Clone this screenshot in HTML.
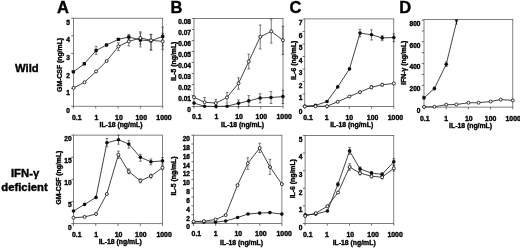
<!DOCTYPE html>
<html><head><meta charset="utf-8"><title>Figure</title>
<style>
html,body{margin:0;padding:0;background:#fff;}
body{width:520px;height:248px;overflow:hidden;font-family:"Liberation Sans",sans-serif;}
svg{display:block;opacity:0.999;will-change:transform}
text{fill:#000}
</style></head><body>
<svg width="520" height="248" viewBox="0 0 520 248">
<defs><filter id="bl" x="0" y="0" width="520" height="248" filterUnits="userSpaceOnUse"><feGaussianBlur stdDeviation="0.3"/></filter></defs>
<rect width="520" height="248" fill="#fff"/>
<g filter="url(#bl)">
<rect x="73.40" y="18.20" width="89.30" height="88.00" fill="none" stroke="#4a4a4a" stroke-width="0.7"/>
<line x1="73.40" y1="106.20" x2="73.40" y2="108.40" stroke="#4a4a4a" stroke-width="0.8"/>
<text x="76.70" y="119.50" font-size="6.9" text-anchor="middle" font-family="Liberation Sans, sans-serif" font-weight="bold" stroke="#000" stroke-width="0.36" >0.1</text>
<line x1="95.72" y1="106.20" x2="95.72" y2="108.40" stroke="#4a4a4a" stroke-width="0.8"/>
<text x="96.32" y="119.50" font-size="6.9" text-anchor="middle" font-family="Liberation Sans, sans-serif" font-weight="bold" stroke="#000" stroke-width="0.36" >1</text>
<line x1="118.05" y1="106.20" x2="118.05" y2="108.40" stroke="#4a4a4a" stroke-width="0.8"/>
<text x="118.95" y="119.50" font-size="6.9" text-anchor="middle" font-family="Liberation Sans, sans-serif" font-weight="bold" stroke="#000" stroke-width="0.36" >10</text>
<line x1="140.38" y1="106.20" x2="140.38" y2="108.40" stroke="#4a4a4a" stroke-width="0.8"/>
<text x="141.28" y="119.50" font-size="6.9" text-anchor="middle" font-family="Liberation Sans, sans-serif" font-weight="bold" stroke="#000" stroke-width="0.36" >100</text>
<line x1="162.70" y1="106.20" x2="162.70" y2="108.40" stroke="#4a4a4a" stroke-width="0.8"/>
<text x="164.00" y="119.50" font-size="6.9" text-anchor="middle" font-family="Liberation Sans, sans-serif" font-weight="bold" stroke="#000" stroke-width="0.36" >1000</text>
<line x1="71.20" y1="106.20" x2="73.40" y2="106.20" stroke="#4a4a4a" stroke-width="0.8"/>
<text x="70.00" y="112.83" font-size="6.6" text-anchor="end" font-family="Liberation Sans, sans-serif" font-weight="bold" stroke="#000" stroke-width="0.36" >0</text>
<line x1="71.20" y1="88.60" x2="73.40" y2="88.60" stroke="#4a4a4a" stroke-width="0.8"/>
<text x="70.00" y="95.23" font-size="6.6" text-anchor="end" font-family="Liberation Sans, sans-serif" font-weight="bold" stroke="#000" stroke-width="0.36" >1</text>
<line x1="71.20" y1="71.00" x2="73.40" y2="71.00" stroke="#4a4a4a" stroke-width="0.8"/>
<text x="70.00" y="77.63" font-size="6.6" text-anchor="end" font-family="Liberation Sans, sans-serif" font-weight="bold" stroke="#000" stroke-width="0.36" >2</text>
<line x1="71.20" y1="53.40" x2="73.40" y2="53.40" stroke="#4a4a4a" stroke-width="0.8"/>
<text x="70.00" y="60.03" font-size="6.6" text-anchor="end" font-family="Liberation Sans, sans-serif" font-weight="bold" stroke="#000" stroke-width="0.36" >3</text>
<line x1="71.20" y1="35.80" x2="73.40" y2="35.80" stroke="#4a4a4a" stroke-width="0.8"/>
<text x="70.00" y="42.43" font-size="6.6" text-anchor="end" font-family="Liberation Sans, sans-serif" font-weight="bold" stroke="#000" stroke-width="0.36" >4</text>
<line x1="71.20" y1="18.20" x2="73.40" y2="18.20" stroke="#4a4a4a" stroke-width="0.8"/>
<text x="70.00" y="24.83" font-size="6.6" text-anchor="end" font-family="Liberation Sans, sans-serif" font-weight="bold" stroke="#000" stroke-width="0.36" >5</text>
<text x="121.00" y="127.20" font-size="6.85" text-anchor="middle" font-family="Liberation Sans, sans-serif" font-weight="bold" stroke="#000" stroke-width="0.36" >IL-18 (ng/mL)</text>
<text transform="translate(62.20,64.90) rotate(-90)" font-size="6.85" text-anchor="middle" font-family="Liberation Sans, sans-serif" font-weight="bold" stroke="#000" stroke-width="0.36">GM-CSF (ng/mL)</text>
<path d="M73.40,71.90 L84.30,63.75 L96.10,50.50 L106.50,45.00 L118.40,39.30 L128.80,37.00 L140.40,40.00 L151.00,40.80 L162.70,36.40" fill="none" stroke="#222" stroke-width="0.85"/>
<path d="M73.60,87.90 L84.50,82.25 L96.10,71.50 L106.70,61.00 L118.40,46.40 L128.80,41.40 L140.40,38.00 L151.00,40.30 L162.70,41.40" fill="none" stroke="#222" stroke-width="0.85"/>
<line x1="96.10" y1="46.25" x2="96.10" y2="54.40" stroke="#333" stroke-width="0.65"/>
<line x1="94.80" y1="46.25" x2="97.40" y2="46.25" stroke="#333" stroke-width="0.65"/>
<line x1="94.80" y1="54.40" x2="97.40" y2="54.40" stroke="#333" stroke-width="0.65"/>
<line x1="128.80" y1="34.40" x2="128.80" y2="40.00" stroke="#333" stroke-width="0.65"/>
<line x1="127.50" y1="34.40" x2="130.10" y2="34.40" stroke="#333" stroke-width="0.65"/>
<line x1="127.50" y1="40.00" x2="130.10" y2="40.00" stroke="#333" stroke-width="0.65"/>
<line x1="140.40" y1="33.00" x2="140.40" y2="46.90" stroke="#333" stroke-width="0.65"/>
<line x1="139.10" y1="33.00" x2="141.70" y2="33.00" stroke="#333" stroke-width="0.65"/>
<line x1="139.10" y1="46.90" x2="141.70" y2="46.90" stroke="#333" stroke-width="0.65"/>
<line x1="151.00" y1="34.40" x2="151.00" y2="50.00" stroke="#333" stroke-width="0.65"/>
<line x1="149.70" y1="34.40" x2="152.30" y2="34.40" stroke="#333" stroke-width="0.65"/>
<line x1="149.70" y1="50.00" x2="152.30" y2="50.00" stroke="#333" stroke-width="0.65"/>
<line x1="162.70" y1="27.10" x2="162.70" y2="45.70" stroke="#333" stroke-width="0.65"/>
<line x1="161.40" y1="27.10" x2="164.00" y2="27.10" stroke="#333" stroke-width="0.65"/>
<line x1="161.40" y1="45.70" x2="164.00" y2="45.70" stroke="#333" stroke-width="0.65"/>
<line x1="118.40" y1="42.80" x2="118.40" y2="50.60" stroke="#333" stroke-width="0.65"/>
<line x1="117.10" y1="42.80" x2="119.70" y2="42.80" stroke="#333" stroke-width="0.65"/>
<line x1="117.10" y1="50.60" x2="119.70" y2="50.60" stroke="#333" stroke-width="0.65"/>
<line x1="128.80" y1="37.00" x2="128.80" y2="46.00" stroke="#333" stroke-width="0.65"/>
<line x1="127.50" y1="37.00" x2="130.10" y2="37.00" stroke="#333" stroke-width="0.65"/>
<line x1="127.50" y1="46.00" x2="130.10" y2="46.00" stroke="#333" stroke-width="0.65"/>
<line x1="140.40" y1="31.80" x2="140.40" y2="44.20" stroke="#333" stroke-width="0.65"/>
<line x1="139.10" y1="31.80" x2="141.70" y2="31.80" stroke="#333" stroke-width="0.65"/>
<line x1="139.10" y1="44.20" x2="141.70" y2="44.20" stroke="#333" stroke-width="0.65"/>
<line x1="151.00" y1="34.40" x2="151.00" y2="50.00" stroke="#333" stroke-width="0.65"/>
<line x1="149.70" y1="34.40" x2="152.30" y2="34.40" stroke="#333" stroke-width="0.65"/>
<line x1="149.70" y1="50.00" x2="152.30" y2="50.00" stroke="#333" stroke-width="0.65"/>
<line x1="162.70" y1="33.40" x2="162.70" y2="49.40" stroke="#333" stroke-width="0.65"/>
<line x1="161.40" y1="33.40" x2="164.00" y2="33.40" stroke="#333" stroke-width="0.65"/>
<line x1="161.40" y1="49.40" x2="164.00" y2="49.40" stroke="#333" stroke-width="0.65"/>
<rect x="71.75" y="70.25" width="3.3" height="3.3" rx="0.7" fill="#111"/>
<rect x="82.65" y="62.10" width="3.3" height="3.3" rx="0.7" fill="#111"/>
<rect x="94.45" y="48.85" width="3.3" height="3.3" rx="0.7" fill="#111"/>
<rect x="104.85" y="43.35" width="3.3" height="3.3" rx="0.7" fill="#111"/>
<rect x="116.75" y="37.65" width="3.3" height="3.3" rx="0.7" fill="#111"/>
<rect x="127.15" y="35.35" width="3.3" height="3.3" rx="0.7" fill="#111"/>
<rect x="138.75" y="38.35" width="3.3" height="3.3" rx="0.7" fill="#111"/>
<rect x="149.35" y="39.15" width="3.3" height="3.3" rx="0.7" fill="#111"/>
<rect x="161.05" y="34.75" width="3.3" height="3.3" rx="0.7" fill="#111"/>
<circle cx="73.60" cy="87.90" r="1.5" fill="#fff" stroke="#1a1a1a" stroke-width="0.9"/>
<circle cx="84.50" cy="82.25" r="1.5" fill="#fff" stroke="#1a1a1a" stroke-width="0.9"/>
<circle cx="96.10" cy="71.50" r="1.5" fill="#fff" stroke="#1a1a1a" stroke-width="0.9"/>
<circle cx="106.70" cy="61.00" r="1.5" fill="#fff" stroke="#1a1a1a" stroke-width="0.9"/>
<circle cx="118.40" cy="46.40" r="1.5" fill="#fff" stroke="#1a1a1a" stroke-width="0.9"/>
<circle cx="128.80" cy="41.40" r="1.5" fill="#fff" stroke="#1a1a1a" stroke-width="0.9"/>
<circle cx="140.40" cy="38.00" r="1.5" fill="#fff" stroke="#1a1a1a" stroke-width="0.9"/>
<circle cx="151.00" cy="40.30" r="1.5" fill="#fff" stroke="#1a1a1a" stroke-width="0.9"/>
<circle cx="162.70" cy="41.40" r="1.5" fill="#fff" stroke="#1a1a1a" stroke-width="0.9"/>
<rect x="194.00" y="18.50" width="89.00" height="88.00" fill="none" stroke="#4a4a4a" stroke-width="0.7"/>
<line x1="194.00" y1="106.50" x2="194.00" y2="108.70" stroke="#4a4a4a" stroke-width="0.8"/>
<text x="196.70" y="119.40" font-size="6.9" text-anchor="middle" font-family="Liberation Sans, sans-serif" font-weight="bold" stroke="#000" stroke-width="0.36" >0.1</text>
<line x1="216.25" y1="106.50" x2="216.25" y2="108.70" stroke="#4a4a4a" stroke-width="0.8"/>
<text x="216.45" y="119.40" font-size="6.9" text-anchor="middle" font-family="Liberation Sans, sans-serif" font-weight="bold" stroke="#000" stroke-width="0.36" >1</text>
<line x1="238.50" y1="106.50" x2="238.50" y2="108.70" stroke="#4a4a4a" stroke-width="0.8"/>
<text x="239.10" y="119.40" font-size="6.9" text-anchor="middle" font-family="Liberation Sans, sans-serif" font-weight="bold" stroke="#000" stroke-width="0.36" >10</text>
<line x1="260.75" y1="106.50" x2="260.75" y2="108.70" stroke="#4a4a4a" stroke-width="0.8"/>
<text x="261.35" y="119.40" font-size="6.9" text-anchor="middle" font-family="Liberation Sans, sans-serif" font-weight="bold" stroke="#000" stroke-width="0.36" >100</text>
<line x1="283.00" y1="106.50" x2="283.00" y2="108.70" stroke="#4a4a4a" stroke-width="0.8"/>
<text x="284.20" y="119.40" font-size="6.9" text-anchor="middle" font-family="Liberation Sans, sans-serif" font-weight="bold" stroke="#000" stroke-width="0.36" >1000</text>
<line x1="191.80" y1="106.50" x2="194.00" y2="106.50" stroke="#4a4a4a" stroke-width="0.8"/>
<text x="191.00" y="111.83" font-size="6.6" text-anchor="end" font-family="Liberation Sans, sans-serif" font-weight="bold" stroke="#000" stroke-width="0.36" >0</text>
<line x1="191.80" y1="95.50" x2="194.00" y2="95.50" stroke="#4a4a4a" stroke-width="0.8"/>
<text x="191.00" y="100.83" font-size="6.6" text-anchor="end" font-family="Liberation Sans, sans-serif" font-weight="bold" stroke="#000" stroke-width="0.36" >0.01</text>
<line x1="191.80" y1="84.50" x2="194.00" y2="84.50" stroke="#4a4a4a" stroke-width="0.8"/>
<text x="191.00" y="89.83" font-size="6.6" text-anchor="end" font-family="Liberation Sans, sans-serif" font-weight="bold" stroke="#000" stroke-width="0.36" >0.02</text>
<line x1="191.80" y1="73.50" x2="194.00" y2="73.50" stroke="#4a4a4a" stroke-width="0.8"/>
<text x="191.00" y="78.83" font-size="6.6" text-anchor="end" font-family="Liberation Sans, sans-serif" font-weight="bold" stroke="#000" stroke-width="0.36" >0.03</text>
<line x1="191.80" y1="62.50" x2="194.00" y2="62.50" stroke="#4a4a4a" stroke-width="0.8"/>
<text x="191.00" y="67.83" font-size="6.6" text-anchor="end" font-family="Liberation Sans, sans-serif" font-weight="bold" stroke="#000" stroke-width="0.36" >0.04</text>
<line x1="191.80" y1="51.50" x2="194.00" y2="51.50" stroke="#4a4a4a" stroke-width="0.8"/>
<text x="191.00" y="56.83" font-size="6.6" text-anchor="end" font-family="Liberation Sans, sans-serif" font-weight="bold" stroke="#000" stroke-width="0.36" >0.05</text>
<line x1="191.80" y1="40.50" x2="194.00" y2="40.50" stroke="#4a4a4a" stroke-width="0.8"/>
<text x="191.00" y="45.83" font-size="6.6" text-anchor="end" font-family="Liberation Sans, sans-serif" font-weight="bold" stroke="#000" stroke-width="0.36" >0.06</text>
<line x1="191.80" y1="29.50" x2="194.00" y2="29.50" stroke="#4a4a4a" stroke-width="0.8"/>
<text x="191.00" y="34.83" font-size="6.6" text-anchor="end" font-family="Liberation Sans, sans-serif" font-weight="bold" stroke="#000" stroke-width="0.36" >0.07</text>
<line x1="191.80" y1="18.50" x2="194.00" y2="18.50" stroke="#4a4a4a" stroke-width="0.8"/>
<text x="191.00" y="23.83" font-size="6.6" text-anchor="end" font-family="Liberation Sans, sans-serif" font-weight="bold" stroke="#000" stroke-width="0.36" >0.08</text>
<text x="242.60" y="126.90" font-size="6.85" text-anchor="middle" font-family="Liberation Sans, sans-serif" font-weight="bold" stroke="#000" stroke-width="0.36" >IL-18 (ng/mL)</text>
<text transform="translate(176.10,61.20) rotate(-90)" font-size="6.85" text-anchor="middle" font-family="Liberation Sans, sans-serif" font-weight="bold" stroke="#000" stroke-width="0.36">IL-5 (ng/mL)</text>
<path d="M194.00,103.10 L204.60,106.30 L216.00,106.40 L227.10,106.20 L238.50,103.30 L248.75,100.90 L260.10,98.00 L271.00,97.50 L282.90,96.60" fill="none" stroke="#222" stroke-width="0.85"/>
<path d="M194.00,97.25 L204.60,102.25 L215.80,103.10 L227.00,97.40 L238.50,83.30 L248.75,61.50 L260.25,36.80 L271.25,31.40 L282.90,40.20" fill="none" stroke="#222" stroke-width="0.85"/>
<line x1="238.50" y1="100.00" x2="238.50" y2="106.90" stroke="#333" stroke-width="0.65"/>
<line x1="237.20" y1="100.00" x2="239.80" y2="100.00" stroke="#333" stroke-width="0.65"/>
<line x1="237.20" y1="106.90" x2="239.80" y2="106.90" stroke="#333" stroke-width="0.65"/>
<line x1="248.75" y1="95.60" x2="248.75" y2="106.00" stroke="#333" stroke-width="0.65"/>
<line x1="247.45" y1="95.60" x2="250.05" y2="95.60" stroke="#333" stroke-width="0.65"/>
<line x1="247.45" y1="106.00" x2="250.05" y2="106.00" stroke="#333" stroke-width="0.65"/>
<line x1="260.10" y1="93.75" x2="260.10" y2="102.90" stroke="#333" stroke-width="0.65"/>
<line x1="258.80" y1="93.75" x2="261.40" y2="93.75" stroke="#333" stroke-width="0.65"/>
<line x1="258.80" y1="102.90" x2="261.40" y2="102.90" stroke="#333" stroke-width="0.65"/>
<line x1="271.00" y1="91.50" x2="271.00" y2="103.50" stroke="#333" stroke-width="0.65"/>
<line x1="269.70" y1="91.50" x2="272.30" y2="91.50" stroke="#333" stroke-width="0.65"/>
<line x1="269.70" y1="103.50" x2="272.30" y2="103.50" stroke="#333" stroke-width="0.65"/>
<line x1="282.90" y1="90.25" x2="282.90" y2="103.50" stroke="#333" stroke-width="0.65"/>
<line x1="281.60" y1="90.25" x2="284.20" y2="90.25" stroke="#333" stroke-width="0.65"/>
<line x1="281.60" y1="103.50" x2="284.20" y2="103.50" stroke="#333" stroke-width="0.65"/>
<line x1="204.60" y1="97.50" x2="204.60" y2="102.25" stroke="#333" stroke-width="0.65"/>
<line x1="203.30" y1="97.50" x2="205.90" y2="97.50" stroke="#333" stroke-width="0.65"/>
<line x1="215.80" y1="99.40" x2="215.80" y2="103.10" stroke="#333" stroke-width="0.65"/>
<line x1="214.50" y1="99.40" x2="217.10" y2="99.40" stroke="#333" stroke-width="0.65"/>
<line x1="227.00" y1="92.50" x2="227.00" y2="103.10" stroke="#333" stroke-width="0.65"/>
<line x1="225.70" y1="92.50" x2="228.30" y2="92.50" stroke="#333" stroke-width="0.65"/>
<line x1="225.70" y1="103.10" x2="228.30" y2="103.10" stroke="#333" stroke-width="0.65"/>
<line x1="238.50" y1="77.80" x2="238.50" y2="89.20" stroke="#333" stroke-width="0.65"/>
<line x1="237.20" y1="77.80" x2="239.80" y2="77.80" stroke="#333" stroke-width="0.65"/>
<line x1="237.20" y1="89.20" x2="239.80" y2="89.20" stroke="#333" stroke-width="0.65"/>
<line x1="248.75" y1="54.20" x2="248.75" y2="68.75" stroke="#333" stroke-width="0.65"/>
<line x1="247.45" y1="54.20" x2="250.05" y2="54.20" stroke="#333" stroke-width="0.65"/>
<line x1="247.45" y1="68.75" x2="250.05" y2="68.75" stroke="#333" stroke-width="0.65"/>
<line x1="260.25" y1="25.00" x2="260.25" y2="49.00" stroke="#333" stroke-width="0.65"/>
<line x1="258.95" y1="25.00" x2="261.55" y2="25.00" stroke="#333" stroke-width="0.65"/>
<line x1="258.95" y1="49.00" x2="261.55" y2="49.00" stroke="#333" stroke-width="0.65"/>
<line x1="271.25" y1="19.00" x2="271.25" y2="43.10" stroke="#333" stroke-width="0.65"/>
<line x1="269.95" y1="19.00" x2="272.55" y2="19.00" stroke="#333" stroke-width="0.65"/>
<line x1="269.95" y1="43.10" x2="272.55" y2="43.10" stroke="#333" stroke-width="0.65"/>
<line x1="282.90" y1="26.25" x2="282.90" y2="54.40" stroke="#333" stroke-width="0.65"/>
<line x1="281.60" y1="26.25" x2="284.20" y2="26.25" stroke="#333" stroke-width="0.65"/>
<line x1="281.60" y1="54.40" x2="284.20" y2="54.40" stroke="#333" stroke-width="0.65"/>
<circle cx="194.00" cy="103.10" r="1.8" fill="#111"/>
<circle cx="204.60" cy="106.30" r="1.8" fill="#111"/>
<circle cx="216.00" cy="106.40" r="1.8" fill="#111"/>
<circle cx="227.10" cy="106.20" r="1.8" fill="#111"/>
<circle cx="238.50" cy="103.30" r="1.8" fill="#111"/>
<circle cx="248.75" cy="100.90" r="1.8" fill="#111"/>
<circle cx="260.10" cy="98.00" r="1.8" fill="#111"/>
<circle cx="271.00" cy="97.50" r="1.8" fill="#111"/>
<circle cx="282.90" cy="96.60" r="1.8" fill="#111"/>
<circle cx="194.00" cy="97.25" r="1.5" fill="#fff" stroke="#1a1a1a" stroke-width="0.9"/>
<circle cx="204.60" cy="102.25" r="1.5" fill="#fff" stroke="#1a1a1a" stroke-width="0.9"/>
<circle cx="215.80" cy="103.10" r="1.5" fill="#fff" stroke="#1a1a1a" stroke-width="0.9"/>
<circle cx="227.00" cy="97.40" r="1.5" fill="#fff" stroke="#1a1a1a" stroke-width="0.9"/>
<circle cx="238.50" cy="83.30" r="1.5" fill="#fff" stroke="#1a1a1a" stroke-width="0.9"/>
<circle cx="248.75" cy="61.50" r="1.5" fill="#fff" stroke="#1a1a1a" stroke-width="0.9"/>
<circle cx="260.25" cy="36.80" r="1.5" fill="#fff" stroke="#1a1a1a" stroke-width="0.9"/>
<circle cx="271.25" cy="31.40" r="1.5" fill="#fff" stroke="#1a1a1a" stroke-width="0.9"/>
<circle cx="282.90" cy="40.20" r="1.5" fill="#fff" stroke="#1a1a1a" stroke-width="0.9"/>
<rect x="304.80" y="18.90" width="89.00" height="87.60" fill="none" stroke="#4a4a4a" stroke-width="0.7"/>
<line x1="304.80" y1="106.50" x2="304.80" y2="108.70" stroke="#4a4a4a" stroke-width="0.8"/>
<text x="308.00" y="119.80" font-size="6.9" text-anchor="middle" font-family="Liberation Sans, sans-serif" font-weight="bold" stroke="#000" stroke-width="0.36" >0.1</text>
<line x1="327.05" y1="106.50" x2="327.05" y2="108.70" stroke="#4a4a4a" stroke-width="0.8"/>
<text x="326.55" y="119.80" font-size="6.9" text-anchor="middle" font-family="Liberation Sans, sans-serif" font-weight="bold" stroke="#000" stroke-width="0.36" >1</text>
<line x1="349.30" y1="106.50" x2="349.30" y2="108.70" stroke="#4a4a4a" stroke-width="0.8"/>
<text x="349.30" y="119.80" font-size="6.9" text-anchor="middle" font-family="Liberation Sans, sans-serif" font-weight="bold" stroke="#000" stroke-width="0.36" >10</text>
<line x1="371.55" y1="106.50" x2="371.55" y2="108.70" stroke="#4a4a4a" stroke-width="0.8"/>
<text x="372.55" y="119.80" font-size="6.9" text-anchor="middle" font-family="Liberation Sans, sans-serif" font-weight="bold" stroke="#000" stroke-width="0.36" >100</text>
<line x1="393.80" y1="106.50" x2="393.80" y2="108.70" stroke="#4a4a4a" stroke-width="0.8"/>
<text x="395.40" y="119.80" font-size="6.9" text-anchor="middle" font-family="Liberation Sans, sans-serif" font-weight="bold" stroke="#000" stroke-width="0.36" >1000</text>
<line x1="302.60" y1="106.50" x2="304.80" y2="106.50" stroke="#4a4a4a" stroke-width="0.8"/>
<text x="302.30" y="113.73" font-size="6.6" text-anchor="end" font-family="Liberation Sans, sans-serif" font-weight="bold" stroke="#000" stroke-width="0.36" >0</text>
<line x1="302.60" y1="94.00" x2="304.80" y2="94.00" stroke="#4a4a4a" stroke-width="0.8"/>
<text x="302.30" y="100.23" font-size="6.6" text-anchor="end" font-family="Liberation Sans, sans-serif" font-weight="bold" stroke="#000" stroke-width="0.36" >1</text>
<line x1="302.60" y1="81.50" x2="304.80" y2="81.50" stroke="#4a4a4a" stroke-width="0.8"/>
<text x="302.30" y="87.73" font-size="6.6" text-anchor="end" font-family="Liberation Sans, sans-serif" font-weight="bold" stroke="#000" stroke-width="0.36" >2</text>
<line x1="302.60" y1="69.00" x2="304.80" y2="69.00" stroke="#4a4a4a" stroke-width="0.8"/>
<text x="302.30" y="75.23" font-size="6.6" text-anchor="end" font-family="Liberation Sans, sans-serif" font-weight="bold" stroke="#000" stroke-width="0.36" >3</text>
<line x1="302.60" y1="56.50" x2="304.80" y2="56.50" stroke="#4a4a4a" stroke-width="0.8"/>
<text x="302.30" y="62.73" font-size="6.6" text-anchor="end" font-family="Liberation Sans, sans-serif" font-weight="bold" stroke="#000" stroke-width="0.36" >4</text>
<line x1="302.60" y1="44.00" x2="304.80" y2="44.00" stroke="#4a4a4a" stroke-width="0.8"/>
<text x="302.30" y="50.23" font-size="6.6" text-anchor="end" font-family="Liberation Sans, sans-serif" font-weight="bold" stroke="#000" stroke-width="0.36" >5</text>
<line x1="302.60" y1="31.50" x2="304.80" y2="31.50" stroke="#4a4a4a" stroke-width="0.8"/>
<text x="302.30" y="37.73" font-size="6.6" text-anchor="end" font-family="Liberation Sans, sans-serif" font-weight="bold" stroke="#000" stroke-width="0.36" >6</text>
<line x1="302.60" y1="19.00" x2="304.80" y2="19.00" stroke="#4a4a4a" stroke-width="0.8"/>
<text x="302.30" y="25.23" font-size="6.6" text-anchor="end" font-family="Liberation Sans, sans-serif" font-weight="bold" stroke="#000" stroke-width="0.36" >7</text>
<text x="351.70" y="127.00" font-size="6.85" text-anchor="middle" font-family="Liberation Sans, sans-serif" font-weight="bold" stroke="#000" stroke-width="0.36" >IL-18 (ng/mL)</text>
<text transform="translate(296.20,60.20) rotate(-90)" font-size="6.85" text-anchor="middle" font-family="Liberation Sans, sans-serif" font-weight="bold" stroke="#000" stroke-width="0.36">IL-6 (ng/mL)</text>
<path d="M304.80,106.20 L315.50,105.40 L327.00,101.50 L337.70,86.90 L349.50,68.90 L360.00,33.10 L371.50,34.75 L382.20,37.90 L393.80,37.50" fill="none" stroke="#222" stroke-width="0.85"/>
<path d="M304.80,106.50 L315.50,106.30 L327.00,106.20 L337.70,101.80 L349.40,96.50 L360.00,92.10 L371.40,87.25 L382.20,84.75 L393.80,83.50" fill="none" stroke="#222" stroke-width="0.85"/>
<line x1="360.00" y1="29.40" x2="360.00" y2="36.90" stroke="#333" stroke-width="0.65"/>
<line x1="358.70" y1="29.40" x2="361.30" y2="29.40" stroke="#333" stroke-width="0.65"/>
<line x1="358.70" y1="36.90" x2="361.30" y2="36.90" stroke="#333" stroke-width="0.65"/>
<line x1="371.50" y1="29.75" x2="371.50" y2="40.00" stroke="#333" stroke-width="0.65"/>
<line x1="370.20" y1="29.75" x2="372.80" y2="29.75" stroke="#333" stroke-width="0.65"/>
<line x1="370.20" y1="40.00" x2="372.80" y2="40.00" stroke="#333" stroke-width="0.65"/>
<line x1="382.20" y1="35.60" x2="382.20" y2="40.60" stroke="#333" stroke-width="0.65"/>
<line x1="380.90" y1="35.60" x2="383.50" y2="35.60" stroke="#333" stroke-width="0.65"/>
<line x1="380.90" y1="40.60" x2="383.50" y2="40.60" stroke="#333" stroke-width="0.65"/>
<line x1="393.80" y1="33.75" x2="393.80" y2="41.60" stroke="#333" stroke-width="0.65"/>
<line x1="392.50" y1="33.75" x2="395.10" y2="33.75" stroke="#333" stroke-width="0.65"/>
<line x1="392.50" y1="41.60" x2="395.10" y2="41.60" stroke="#333" stroke-width="0.65"/>
<line x1="371.40" y1="85.70" x2="371.40" y2="88.80" stroke="#333" stroke-width="0.65"/>
<line x1="370.10" y1="85.70" x2="372.70" y2="85.70" stroke="#333" stroke-width="0.65"/>
<line x1="370.10" y1="88.80" x2="372.70" y2="88.80" stroke="#333" stroke-width="0.65"/>
<line x1="382.20" y1="83.50" x2="382.20" y2="86.00" stroke="#333" stroke-width="0.65"/>
<line x1="380.90" y1="83.50" x2="383.50" y2="83.50" stroke="#333" stroke-width="0.65"/>
<line x1="380.90" y1="86.00" x2="383.50" y2="86.00" stroke="#333" stroke-width="0.65"/>
<circle cx="304.80" cy="106.20" r="1.8" fill="#111"/>
<circle cx="315.50" cy="105.40" r="1.8" fill="#111"/>
<circle cx="327.00" cy="101.50" r="1.8" fill="#111"/>
<circle cx="337.70" cy="86.90" r="1.8" fill="#111"/>
<circle cx="349.50" cy="68.90" r="1.8" fill="#111"/>
<circle cx="360.00" cy="33.10" r="1.8" fill="#111"/>
<circle cx="371.50" cy="34.75" r="1.8" fill="#111"/>
<circle cx="382.20" cy="37.90" r="1.8" fill="#111"/>
<circle cx="393.80" cy="37.50" r="1.8" fill="#111"/>
<circle cx="304.80" cy="106.50" r="1.5" fill="#fff" stroke="#1a1a1a" stroke-width="0.9"/>
<circle cx="315.50" cy="106.30" r="1.5" fill="#fff" stroke="#1a1a1a" stroke-width="0.9"/>
<circle cx="327.00" cy="106.20" r="1.5" fill="#fff" stroke="#1a1a1a" stroke-width="0.9"/>
<circle cx="337.70" cy="101.80" r="1.5" fill="#fff" stroke="#1a1a1a" stroke-width="0.9"/>
<circle cx="349.40" cy="96.50" r="1.5" fill="#fff" stroke="#1a1a1a" stroke-width="0.9"/>
<circle cx="360.00" cy="92.10" r="1.5" fill="#fff" stroke="#1a1a1a" stroke-width="0.9"/>
<circle cx="371.40" cy="87.25" r="1.5" fill="#fff" stroke="#1a1a1a" stroke-width="0.9"/>
<circle cx="382.20" cy="84.75" r="1.5" fill="#fff" stroke="#1a1a1a" stroke-width="0.9"/>
<circle cx="393.80" cy="83.50" r="1.5" fill="#fff" stroke="#1a1a1a" stroke-width="0.9"/>
<rect x="424.00" y="19.40" width="88.80" height="87.70" fill="none" stroke="#4a4a4a" stroke-width="0.7"/>
<line x1="424.00" y1="107.10" x2="424.00" y2="109.30" stroke="#4a4a4a" stroke-width="0.8"/>
<text x="424.70" y="120.90" font-size="6.9" text-anchor="middle" font-family="Liberation Sans, sans-serif" font-weight="bold" stroke="#000" stroke-width="0.36" >0.1</text>
<line x1="446.20" y1="107.10" x2="446.20" y2="109.30" stroke="#4a4a4a" stroke-width="0.8"/>
<text x="446.20" y="120.90" font-size="6.9" text-anchor="middle" font-family="Liberation Sans, sans-serif" font-weight="bold" stroke="#000" stroke-width="0.36" >1</text>
<line x1="468.40" y1="107.10" x2="468.40" y2="109.30" stroke="#4a4a4a" stroke-width="0.8"/>
<text x="468.80" y="120.90" font-size="6.9" text-anchor="middle" font-family="Liberation Sans, sans-serif" font-weight="bold" stroke="#000" stroke-width="0.36" >10</text>
<line x1="490.60" y1="107.10" x2="490.60" y2="109.30" stroke="#4a4a4a" stroke-width="0.8"/>
<text x="490.60" y="120.90" font-size="6.9" text-anchor="middle" font-family="Liberation Sans, sans-serif" font-weight="bold" stroke="#000" stroke-width="0.36" >100</text>
<line x1="512.80" y1="107.10" x2="512.80" y2="109.30" stroke="#4a4a4a" stroke-width="0.8"/>
<text x="513.20" y="120.90" font-size="6.9" text-anchor="middle" font-family="Liberation Sans, sans-serif" font-weight="bold" stroke="#000" stroke-width="0.36" >1000</text>
<line x1="421.80" y1="107.10" x2="424.00" y2="107.10" stroke="#4a4a4a" stroke-width="0.8"/>
<text x="420.50" y="112.93" font-size="6.6" text-anchor="end" font-family="Liberation Sans, sans-serif" font-weight="bold" stroke="#000" stroke-width="0.36" >0</text>
<line x1="421.80" y1="96.22" x2="424.00" y2="96.22" stroke="#4a4a4a" stroke-width="0.8"/>
<line x1="421.80" y1="85.34" x2="424.00" y2="85.34" stroke="#4a4a4a" stroke-width="0.8"/>
<text x="420.50" y="91.17" font-size="6.6" text-anchor="end" font-family="Liberation Sans, sans-serif" font-weight="bold" stroke="#000" stroke-width="0.36" >200</text>
<line x1="421.80" y1="74.46" x2="424.00" y2="74.46" stroke="#4a4a4a" stroke-width="0.8"/>
<line x1="421.80" y1="63.58" x2="424.00" y2="63.58" stroke="#4a4a4a" stroke-width="0.8"/>
<text x="420.50" y="69.41" font-size="6.6" text-anchor="end" font-family="Liberation Sans, sans-serif" font-weight="bold" stroke="#000" stroke-width="0.36" >400</text>
<line x1="421.80" y1="52.70" x2="424.00" y2="52.70" stroke="#4a4a4a" stroke-width="0.8"/>
<line x1="421.80" y1="41.82" x2="424.00" y2="41.82" stroke="#4a4a4a" stroke-width="0.8"/>
<text x="420.50" y="47.65" font-size="6.6" text-anchor="end" font-family="Liberation Sans, sans-serif" font-weight="bold" stroke="#000" stroke-width="0.36" >600</text>
<line x1="421.80" y1="30.94" x2="424.00" y2="30.94" stroke="#4a4a4a" stroke-width="0.8"/>
<line x1="421.80" y1="20.06" x2="424.00" y2="20.06" stroke="#4a4a4a" stroke-width="0.8"/>
<text x="420.50" y="25.89" font-size="6.6" text-anchor="end" font-family="Liberation Sans, sans-serif" font-weight="bold" stroke="#000" stroke-width="0.36" >800</text>
<text x="470.60" y="128.00" font-size="6.85" text-anchor="middle" font-family="Liberation Sans, sans-serif" font-weight="bold" stroke="#000" stroke-width="0.36" >IL-18 (ng/mL)</text>
<text transform="translate(405.70,62.70) rotate(-90)" font-size="6.85" text-anchor="middle" font-family="Liberation Sans, sans-serif" font-weight="bold" stroke="#000" stroke-width="0.36">IFN-&#947; (ng/mL)</text>
<path d="M424.00,97.90 L434.40,88.50 L446.25,64.20 L456.50,22.00" fill="none" stroke="#222" stroke-width="0.85"/>
<path d="M424.00,106.90 L434.40,106.80 L446.25,104.70 L456.40,104.50 L468.50,102.75 L478.60,102.70 L490.60,101.50 L500.60,99.60 L512.80,100.40" fill="none" stroke="#222" stroke-width="0.85"/>
<line x1="434.40" y1="87.00" x2="434.40" y2="90.00" stroke="#333" stroke-width="0.65"/>
<line x1="433.10" y1="87.00" x2="435.70" y2="87.00" stroke="#333" stroke-width="0.65"/>
<line x1="433.10" y1="90.00" x2="435.70" y2="90.00" stroke="#333" stroke-width="0.65"/>
<line x1="446.25" y1="62.00" x2="446.25" y2="66.50" stroke="#333" stroke-width="0.65"/>
<line x1="444.95" y1="62.00" x2="447.55" y2="62.00" stroke="#333" stroke-width="0.65"/>
<line x1="444.95" y1="66.50" x2="447.55" y2="66.50" stroke="#333" stroke-width="0.65"/>
<line x1="456.50" y1="22.00" x2="456.50" y2="22.00" stroke="#333" stroke-width="0.65"/>
<circle cx="424.00" cy="97.90" r="1.8" fill="#111"/>
<circle cx="434.40" cy="88.50" r="1.8" fill="#111"/>
<circle cx="446.25" cy="64.20" r="1.8" fill="#111"/>
<path d="M454.70,19.60 L458.30,19.60 L457.00,22.60 L457.00,24.20 L457.70,24.60 L455.30,24.60 L456.00,24.20 L456.00,22.60 Z" fill="#111"/>
<circle cx="424.00" cy="106.90" r="1.5" fill="#fff" stroke="#1a1a1a" stroke-width="0.9"/>
<circle cx="434.40" cy="106.80" r="1.5" fill="#fff" stroke="#1a1a1a" stroke-width="0.9"/>
<circle cx="446.25" cy="104.70" r="1.5" fill="#fff" stroke="#1a1a1a" stroke-width="0.9"/>
<circle cx="456.40" cy="104.50" r="1.5" fill="#fff" stroke="#1a1a1a" stroke-width="0.9"/>
<circle cx="468.50" cy="102.75" r="1.5" fill="#fff" stroke="#1a1a1a" stroke-width="0.9"/>
<circle cx="478.60" cy="102.70" r="1.5" fill="#fff" stroke="#1a1a1a" stroke-width="0.9"/>
<circle cx="490.60" cy="101.50" r="1.5" fill="#fff" stroke="#1a1a1a" stroke-width="0.9"/>
<circle cx="500.60" cy="99.60" r="1.5" fill="#fff" stroke="#1a1a1a" stroke-width="0.9"/>
<circle cx="512.80" cy="100.40" r="1.5" fill="#fff" stroke="#1a1a1a" stroke-width="0.9"/>
<rect x="73.50" y="135.10" width="89.00" height="88.60" fill="none" stroke="#4a4a4a" stroke-width="0.7"/>
<line x1="73.50" y1="223.70" x2="73.50" y2="225.90" stroke="#4a4a4a" stroke-width="0.8"/>
<text x="76.80" y="236.50" font-size="6.9" text-anchor="middle" font-family="Liberation Sans, sans-serif" font-weight="bold" stroke="#000" stroke-width="0.36" >0.1</text>
<line x1="95.75" y1="223.70" x2="95.75" y2="225.90" stroke="#4a4a4a" stroke-width="0.8"/>
<text x="96.05" y="236.50" font-size="6.9" text-anchor="middle" font-family="Liberation Sans, sans-serif" font-weight="bold" stroke="#000" stroke-width="0.36" >1</text>
<line x1="118.00" y1="223.70" x2="118.00" y2="225.90" stroke="#4a4a4a" stroke-width="0.8"/>
<text x="118.60" y="236.50" font-size="6.9" text-anchor="middle" font-family="Liberation Sans, sans-serif" font-weight="bold" stroke="#000" stroke-width="0.36" >10</text>
<line x1="140.25" y1="223.70" x2="140.25" y2="225.90" stroke="#4a4a4a" stroke-width="0.8"/>
<text x="140.85" y="236.50" font-size="6.9" text-anchor="middle" font-family="Liberation Sans, sans-serif" font-weight="bold" stroke="#000" stroke-width="0.36" >100</text>
<line x1="162.50" y1="223.70" x2="162.50" y2="225.90" stroke="#4a4a4a" stroke-width="0.8"/>
<text x="164.10" y="236.50" font-size="6.9" text-anchor="middle" font-family="Liberation Sans, sans-serif" font-weight="bold" stroke="#000" stroke-width="0.36" >1000</text>
<line x1="71.30" y1="223.70" x2="73.50" y2="223.70" stroke="#4a4a4a" stroke-width="0.8"/>
<text x="71.70" y="229.63" font-size="6.6" text-anchor="end" font-family="Liberation Sans, sans-serif" font-weight="bold" stroke="#000" stroke-width="0.36" >0</text>
<line x1="71.30" y1="201.55" x2="73.50" y2="201.55" stroke="#4a4a4a" stroke-width="0.8"/>
<text x="71.70" y="207.48" font-size="6.6" text-anchor="end" font-family="Liberation Sans, sans-serif" font-weight="bold" stroke="#000" stroke-width="0.36" >5</text>
<line x1="71.30" y1="179.40" x2="73.50" y2="179.40" stroke="#4a4a4a" stroke-width="0.8"/>
<text x="71.70" y="185.33" font-size="6.6" text-anchor="end" font-family="Liberation Sans, sans-serif" font-weight="bold" stroke="#000" stroke-width="0.36" >10</text>
<line x1="71.30" y1="157.25" x2="73.50" y2="157.25" stroke="#4a4a4a" stroke-width="0.8"/>
<text x="71.70" y="163.18" font-size="6.6" text-anchor="end" font-family="Liberation Sans, sans-serif" font-weight="bold" stroke="#000" stroke-width="0.36" >15</text>
<line x1="71.30" y1="135.10" x2="73.50" y2="135.10" stroke="#4a4a4a" stroke-width="0.8"/>
<text x="71.70" y="141.03" font-size="6.6" text-anchor="end" font-family="Liberation Sans, sans-serif" font-weight="bold" stroke="#000" stroke-width="0.36" >20</text>
<text x="120.20" y="244.10" font-size="6.85" text-anchor="middle" font-family="Liberation Sans, sans-serif" font-weight="bold" stroke="#000" stroke-width="0.36" >IL-18 (ng/mL)</text>
<text transform="translate(60.90,177.60) rotate(-90)" font-size="6.85" text-anchor="middle" font-family="Liberation Sans, sans-serif" font-weight="bold" stroke="#000" stroke-width="0.36">GM-CSF (ng/mL)</text>
<path d="M73.50,211.00 L84.60,204.40 L96.00,197.40 L106.90,142.80 L118.50,139.70 L128.80,144.10 L140.40,157.30 L150.90,161.80 L162.50,160.90" fill="none" stroke="#222" stroke-width="0.85"/>
<path d="M73.50,217.75 L84.60,216.90 L96.00,214.00 L106.80,194.00 L118.40,154.75 L128.80,171.60 L140.40,180.80 L150.90,176.10 L162.50,167.70" fill="none" stroke="#222" stroke-width="0.85"/>
<line x1="106.90" y1="138.60" x2="106.90" y2="146.70" stroke="#333" stroke-width="0.65"/>
<line x1="105.60" y1="138.60" x2="108.20" y2="138.60" stroke="#333" stroke-width="0.65"/>
<line x1="105.60" y1="146.70" x2="108.20" y2="146.70" stroke="#333" stroke-width="0.65"/>
<line x1="118.50" y1="135.10" x2="118.50" y2="144.20" stroke="#333" stroke-width="0.65"/>
<line x1="117.20" y1="135.10" x2="119.80" y2="135.10" stroke="#333" stroke-width="0.65"/>
<line x1="117.20" y1="144.20" x2="119.80" y2="144.20" stroke="#333" stroke-width="0.65"/>
<line x1="128.80" y1="140.40" x2="128.80" y2="148.10" stroke="#333" stroke-width="0.65"/>
<line x1="127.50" y1="140.40" x2="130.10" y2="140.40" stroke="#333" stroke-width="0.65"/>
<line x1="127.50" y1="148.10" x2="130.10" y2="148.10" stroke="#333" stroke-width="0.65"/>
<line x1="140.40" y1="154.40" x2="140.40" y2="161.20" stroke="#333" stroke-width="0.65"/>
<line x1="139.10" y1="154.40" x2="141.70" y2="154.40" stroke="#333" stroke-width="0.65"/>
<line x1="139.10" y1="161.20" x2="141.70" y2="161.20" stroke="#333" stroke-width="0.65"/>
<line x1="150.90" y1="159.00" x2="150.90" y2="164.80" stroke="#333" stroke-width="0.65"/>
<line x1="149.60" y1="159.00" x2="152.20" y2="159.00" stroke="#333" stroke-width="0.65"/>
<line x1="149.60" y1="164.80" x2="152.20" y2="164.80" stroke="#333" stroke-width="0.65"/>
<line x1="162.50" y1="157.60" x2="162.50" y2="164.00" stroke="#333" stroke-width="0.65"/>
<line x1="161.20" y1="157.60" x2="163.80" y2="157.60" stroke="#333" stroke-width="0.65"/>
<line x1="161.20" y1="164.00" x2="163.80" y2="164.00" stroke="#333" stroke-width="0.65"/>
<line x1="118.40" y1="151.10" x2="118.40" y2="158.40" stroke="#333" stroke-width="0.65"/>
<line x1="117.10" y1="151.10" x2="119.70" y2="151.10" stroke="#333" stroke-width="0.65"/>
<line x1="117.10" y1="158.40" x2="119.70" y2="158.40" stroke="#333" stroke-width="0.65"/>
<line x1="128.80" y1="168.90" x2="128.80" y2="173.90" stroke="#333" stroke-width="0.65"/>
<line x1="127.50" y1="168.90" x2="130.10" y2="168.90" stroke="#333" stroke-width="0.65"/>
<line x1="127.50" y1="173.90" x2="130.10" y2="173.90" stroke="#333" stroke-width="0.65"/>
<line x1="140.40" y1="178.80" x2="140.40" y2="182.80" stroke="#333" stroke-width="0.65"/>
<line x1="139.10" y1="178.80" x2="141.70" y2="178.80" stroke="#333" stroke-width="0.65"/>
<line x1="139.10" y1="182.80" x2="141.70" y2="182.80" stroke="#333" stroke-width="0.65"/>
<line x1="150.90" y1="174.10" x2="150.90" y2="178.10" stroke="#333" stroke-width="0.65"/>
<line x1="149.60" y1="174.10" x2="152.20" y2="174.10" stroke="#333" stroke-width="0.65"/>
<line x1="149.60" y1="178.10" x2="152.20" y2="178.10" stroke="#333" stroke-width="0.65"/>
<line x1="162.50" y1="165.70" x2="162.50" y2="169.70" stroke="#333" stroke-width="0.65"/>
<line x1="161.20" y1="165.70" x2="163.80" y2="165.70" stroke="#333" stroke-width="0.65"/>
<line x1="161.20" y1="169.70" x2="163.80" y2="169.70" stroke="#333" stroke-width="0.65"/>
<circle cx="73.50" cy="211.00" r="1.8" fill="#111"/>
<circle cx="84.60" cy="204.40" r="1.8" fill="#111"/>
<circle cx="96.00" cy="197.40" r="1.8" fill="#111"/>
<circle cx="106.90" cy="142.80" r="1.8" fill="#111"/>
<circle cx="118.50" cy="139.70" r="1.8" fill="#111"/>
<circle cx="128.80" cy="144.10" r="1.8" fill="#111"/>
<circle cx="140.40" cy="157.30" r="1.8" fill="#111"/>
<circle cx="150.90" cy="161.80" r="1.8" fill="#111"/>
<circle cx="162.50" cy="160.90" r="1.8" fill="#111"/>
<circle cx="73.50" cy="217.75" r="1.5" fill="#fff" stroke="#1a1a1a" stroke-width="0.9"/>
<circle cx="84.60" cy="216.90" r="1.5" fill="#fff" stroke="#1a1a1a" stroke-width="0.9"/>
<circle cx="96.00" cy="214.00" r="1.5" fill="#fff" stroke="#1a1a1a" stroke-width="0.9"/>
<circle cx="106.80" cy="194.00" r="1.5" fill="#fff" stroke="#1a1a1a" stroke-width="0.9"/>
<circle cx="118.40" cy="154.75" r="1.5" fill="#fff" stroke="#1a1a1a" stroke-width="0.9"/>
<circle cx="128.80" cy="171.60" r="1.5" fill="#fff" stroke="#1a1a1a" stroke-width="0.9"/>
<circle cx="140.40" cy="180.80" r="1.5" fill="#fff" stroke="#1a1a1a" stroke-width="0.9"/>
<circle cx="150.90" cy="176.10" r="1.5" fill="#fff" stroke="#1a1a1a" stroke-width="0.9"/>
<circle cx="162.50" cy="167.70" r="1.5" fill="#fff" stroke="#1a1a1a" stroke-width="0.9"/>
<rect x="193.60" y="135.20" width="88.30" height="88.40" fill="none" stroke="#4a4a4a" stroke-width="0.7"/>
<line x1="193.60" y1="223.60" x2="193.60" y2="225.80" stroke="#4a4a4a" stroke-width="0.8"/>
<text x="196.40" y="236.30" font-size="6.9" text-anchor="middle" font-family="Liberation Sans, sans-serif" font-weight="bold" stroke="#000" stroke-width="0.36" >0.1</text>
<line x1="215.67" y1="223.60" x2="215.67" y2="225.80" stroke="#4a4a4a" stroke-width="0.8"/>
<text x="215.67" y="236.30" font-size="6.9" text-anchor="middle" font-family="Liberation Sans, sans-serif" font-weight="bold" stroke="#000" stroke-width="0.36" >1</text>
<line x1="237.75" y1="223.60" x2="237.75" y2="225.80" stroke="#4a4a4a" stroke-width="0.8"/>
<text x="238.25" y="236.30" font-size="6.9" text-anchor="middle" font-family="Liberation Sans, sans-serif" font-weight="bold" stroke="#000" stroke-width="0.36" >10</text>
<line x1="259.82" y1="223.60" x2="259.82" y2="225.80" stroke="#4a4a4a" stroke-width="0.8"/>
<text x="260.82" y="236.30" font-size="6.9" text-anchor="middle" font-family="Liberation Sans, sans-serif" font-weight="bold" stroke="#000" stroke-width="0.36" >100</text>
<line x1="281.90" y1="223.60" x2="281.90" y2="225.80" stroke="#4a4a4a" stroke-width="0.8"/>
<text x="284.20" y="236.30" font-size="6.9" text-anchor="middle" font-family="Liberation Sans, sans-serif" font-weight="bold" stroke="#000" stroke-width="0.36" >1000</text>
<line x1="191.40" y1="223.60" x2="193.60" y2="223.60" stroke="#4a4a4a" stroke-width="0.8"/>
<text x="190.00" y="229.03" font-size="6.6" text-anchor="end" font-family="Liberation Sans, sans-serif" font-weight="bold" stroke="#000" stroke-width="0.36" >0</text>
<line x1="191.40" y1="214.76" x2="193.60" y2="214.76" stroke="#4a4a4a" stroke-width="0.8"/>
<text x="190.00" y="220.69" font-size="6.6" text-anchor="end" font-family="Liberation Sans, sans-serif" font-weight="bold" stroke="#000" stroke-width="0.36" >2</text>
<line x1="191.40" y1="205.92" x2="193.60" y2="205.92" stroke="#4a4a4a" stroke-width="0.8"/>
<text x="190.00" y="211.85" font-size="6.6" text-anchor="end" font-family="Liberation Sans, sans-serif" font-weight="bold" stroke="#000" stroke-width="0.36" >4</text>
<line x1="191.40" y1="197.08" x2="193.60" y2="197.08" stroke="#4a4a4a" stroke-width="0.8"/>
<text x="190.00" y="203.01" font-size="6.6" text-anchor="end" font-family="Liberation Sans, sans-serif" font-weight="bold" stroke="#000" stroke-width="0.36" >6</text>
<line x1="191.40" y1="188.24" x2="193.60" y2="188.24" stroke="#4a4a4a" stroke-width="0.8"/>
<text x="190.00" y="194.17" font-size="6.6" text-anchor="end" font-family="Liberation Sans, sans-serif" font-weight="bold" stroke="#000" stroke-width="0.36" >8</text>
<line x1="191.40" y1="179.40" x2="193.60" y2="179.40" stroke="#4a4a4a" stroke-width="0.8"/>
<text x="190.00" y="185.33" font-size="6.6" text-anchor="end" font-family="Liberation Sans, sans-serif" font-weight="bold" stroke="#000" stroke-width="0.36" >10</text>
<line x1="191.40" y1="170.56" x2="193.60" y2="170.56" stroke="#4a4a4a" stroke-width="0.8"/>
<text x="190.00" y="176.49" font-size="6.6" text-anchor="end" font-family="Liberation Sans, sans-serif" font-weight="bold" stroke="#000" stroke-width="0.36" >12</text>
<line x1="191.40" y1="161.72" x2="193.60" y2="161.72" stroke="#4a4a4a" stroke-width="0.8"/>
<text x="190.00" y="167.65" font-size="6.6" text-anchor="end" font-family="Liberation Sans, sans-serif" font-weight="bold" stroke="#000" stroke-width="0.36" >14</text>
<line x1="191.40" y1="152.88" x2="193.60" y2="152.88" stroke="#4a4a4a" stroke-width="0.8"/>
<text x="190.00" y="158.81" font-size="6.6" text-anchor="end" font-family="Liberation Sans, sans-serif" font-weight="bold" stroke="#000" stroke-width="0.36" >16</text>
<line x1="191.40" y1="144.04" x2="193.60" y2="144.04" stroke="#4a4a4a" stroke-width="0.8"/>
<text x="190.00" y="149.97" font-size="6.6" text-anchor="end" font-family="Liberation Sans, sans-serif" font-weight="bold" stroke="#000" stroke-width="0.36" >18</text>
<line x1="191.40" y1="135.20" x2="193.60" y2="135.20" stroke="#4a4a4a" stroke-width="0.8"/>
<text x="190.00" y="141.13" font-size="6.6" text-anchor="end" font-family="Liberation Sans, sans-serif" font-weight="bold" stroke="#000" stroke-width="0.36" >20</text>
<text x="241.60" y="245.20" font-size="6.85" text-anchor="middle" font-family="Liberation Sans, sans-serif" font-weight="bold" stroke="#000" stroke-width="0.36" >IL-18 (ng/mL)</text>
<text transform="translate(175.80,176.00) rotate(-90)" font-size="6.85" text-anchor="middle" font-family="Liberation Sans, sans-serif" font-weight="bold" stroke="#000" stroke-width="0.36">IL-5 (ng/mL)</text>
<path d="M193.60,222.00 L203.90,222.10 L215.60,222.10 L225.70,221.00 L237.60,217.50 L248.00,214.00 L259.70,213.10 L269.90,212.60 L281.90,214.10" fill="none" stroke="#222" stroke-width="0.85"/>
<path d="M193.60,221.50 L203.90,221.20 L215.60,219.50 L225.70,215.10 L237.50,185.20 L247.80,163.40 L259.70,148.10 L270.00,167.00 L281.90,184.10" fill="none" stroke="#222" stroke-width="0.85"/>
<line x1="247.80" y1="157.75" x2="247.80" y2="169.40" stroke="#333" stroke-width="0.65"/>
<line x1="246.50" y1="157.75" x2="249.10" y2="157.75" stroke="#333" stroke-width="0.65"/>
<line x1="246.50" y1="169.40" x2="249.10" y2="169.40" stroke="#333" stroke-width="0.65"/>
<line x1="259.70" y1="143.20" x2="259.70" y2="152.50" stroke="#333" stroke-width="0.65"/>
<line x1="258.40" y1="143.20" x2="261.00" y2="143.20" stroke="#333" stroke-width="0.65"/>
<line x1="258.40" y1="152.50" x2="261.00" y2="152.50" stroke="#333" stroke-width="0.65"/>
<line x1="270.00" y1="159.40" x2="270.00" y2="174.40" stroke="#333" stroke-width="0.65"/>
<line x1="268.70" y1="159.40" x2="271.30" y2="159.40" stroke="#333" stroke-width="0.65"/>
<line x1="268.70" y1="174.40" x2="271.30" y2="174.40" stroke="#333" stroke-width="0.65"/>
<circle cx="193.60" cy="222.00" r="1.8" fill="#111"/>
<circle cx="203.90" cy="222.10" r="1.8" fill="#111"/>
<circle cx="215.60" cy="222.10" r="1.8" fill="#111"/>
<circle cx="225.70" cy="221.00" r="1.8" fill="#111"/>
<circle cx="237.60" cy="217.50" r="1.8" fill="#111"/>
<circle cx="248.00" cy="214.00" r="1.8" fill="#111"/>
<circle cx="259.70" cy="213.10" r="1.8" fill="#111"/>
<circle cx="269.90" cy="212.60" r="1.8" fill="#111"/>
<circle cx="281.90" cy="214.10" r="1.8" fill="#111"/>
<circle cx="193.60" cy="221.50" r="1.5" fill="#fff" stroke="#1a1a1a" stroke-width="0.9"/>
<circle cx="203.90" cy="221.20" r="1.5" fill="#fff" stroke="#1a1a1a" stroke-width="0.9"/>
<circle cx="215.60" cy="219.50" r="1.5" fill="#fff" stroke="#1a1a1a" stroke-width="0.9"/>
<circle cx="225.70" cy="215.10" r="1.5" fill="#fff" stroke="#1a1a1a" stroke-width="0.9"/>
<circle cx="237.50" cy="185.20" r="1.5" fill="#fff" stroke="#1a1a1a" stroke-width="0.9"/>
<circle cx="247.80" cy="163.40" r="1.5" fill="#fff" stroke="#1a1a1a" stroke-width="0.9"/>
<circle cx="259.70" cy="148.10" r="1.5" fill="#fff" stroke="#1a1a1a" stroke-width="0.9"/>
<circle cx="270.00" cy="167.00" r="1.5" fill="#fff" stroke="#1a1a1a" stroke-width="0.9"/>
<circle cx="281.90" cy="184.10" r="1.5" fill="#fff" stroke="#1a1a1a" stroke-width="0.9"/>
<rect x="305.10" y="135.40" width="88.70" height="88.10" fill="none" stroke="#4a4a4a" stroke-width="0.7"/>
<line x1="305.10" y1="223.50" x2="305.10" y2="225.70" stroke="#4a4a4a" stroke-width="0.8"/>
<text x="307.70" y="236.90" font-size="6.9" text-anchor="middle" font-family="Liberation Sans, sans-serif" font-weight="bold" stroke="#000" stroke-width="0.36" >0.1</text>
<line x1="327.28" y1="223.50" x2="327.28" y2="225.70" stroke="#4a4a4a" stroke-width="0.8"/>
<text x="326.98" y="236.90" font-size="6.9" text-anchor="middle" font-family="Liberation Sans, sans-serif" font-weight="bold" stroke="#000" stroke-width="0.36" >1</text>
<line x1="349.45" y1="223.50" x2="349.45" y2="225.70" stroke="#4a4a4a" stroke-width="0.8"/>
<text x="350.25" y="236.90" font-size="6.9" text-anchor="middle" font-family="Liberation Sans, sans-serif" font-weight="bold" stroke="#000" stroke-width="0.36" >10</text>
<line x1="371.62" y1="223.50" x2="371.62" y2="225.70" stroke="#4a4a4a" stroke-width="0.8"/>
<text x="373.12" y="236.90" font-size="6.9" text-anchor="middle" font-family="Liberation Sans, sans-serif" font-weight="bold" stroke="#000" stroke-width="0.36" >100</text>
<line x1="393.80" y1="223.50" x2="393.80" y2="225.70" stroke="#4a4a4a" stroke-width="0.8"/>
<text x="395.10" y="236.90" font-size="6.9" text-anchor="middle" font-family="Liberation Sans, sans-serif" font-weight="bold" stroke="#000" stroke-width="0.36" >1000</text>
<line x1="302.90" y1="223.50" x2="305.10" y2="223.50" stroke="#4a4a4a" stroke-width="0.8"/>
<text x="302.40" y="229.63" font-size="6.6" text-anchor="end" font-family="Liberation Sans, sans-serif" font-weight="bold" stroke="#000" stroke-width="0.36" >0</text>
<line x1="302.90" y1="205.88" x2="305.10" y2="205.88" stroke="#4a4a4a" stroke-width="0.8"/>
<text x="302.40" y="212.21" font-size="6.6" text-anchor="end" font-family="Liberation Sans, sans-serif" font-weight="bold" stroke="#000" stroke-width="0.36" >1</text>
<line x1="302.90" y1="188.26" x2="305.10" y2="188.26" stroke="#4a4a4a" stroke-width="0.8"/>
<text x="302.40" y="194.59" font-size="6.6" text-anchor="end" font-family="Liberation Sans, sans-serif" font-weight="bold" stroke="#000" stroke-width="0.36" >2</text>
<line x1="302.90" y1="170.64" x2="305.10" y2="170.64" stroke="#4a4a4a" stroke-width="0.8"/>
<text x="302.40" y="176.97" font-size="6.6" text-anchor="end" font-family="Liberation Sans, sans-serif" font-weight="bold" stroke="#000" stroke-width="0.36" >3</text>
<line x1="302.90" y1="153.02" x2="305.10" y2="153.02" stroke="#4a4a4a" stroke-width="0.8"/>
<text x="302.40" y="159.35" font-size="6.6" text-anchor="end" font-family="Liberation Sans, sans-serif" font-weight="bold" stroke="#000" stroke-width="0.36" >4</text>
<line x1="302.90" y1="135.40" x2="305.10" y2="135.40" stroke="#4a4a4a" stroke-width="0.8"/>
<text x="302.40" y="141.73" font-size="6.6" text-anchor="end" font-family="Liberation Sans, sans-serif" font-weight="bold" stroke="#000" stroke-width="0.36" >5</text>
<text x="354.20" y="244.50" font-size="6.85" text-anchor="middle" font-family="Liberation Sans, sans-serif" font-weight="bold" stroke="#000" stroke-width="0.36" >IL-18 (ng/mL)</text>
<text transform="translate(295.10,178.70) rotate(-90)" font-size="6.85" text-anchor="middle" font-family="Liberation Sans, sans-serif" font-weight="bold" stroke="#000" stroke-width="0.36">IL-6 (ng/mL)</text>
<path d="M305.20,214.80 L315.80,214.10 L327.40,211.00 L337.90,184.40 L349.60,150.90 L360.00,168.90 L371.50,173.00 L382.10,174.40 L393.80,161.80" fill="none" stroke="#222" stroke-width="0.85"/>
<path d="M305.20,216.00 L315.80,213.20 L327.40,206.20 L338.00,192.50 L349.60,167.00 L360.00,173.10 L371.50,176.25 L382.10,177.20 L393.80,168.30" fill="none" stroke="#222" stroke-width="0.85"/>
<line x1="337.90" y1="182.60" x2="337.90" y2="186.20" stroke="#333" stroke-width="0.65"/>
<line x1="336.60" y1="182.60" x2="339.20" y2="182.60" stroke="#333" stroke-width="0.65"/>
<line x1="336.60" y1="186.20" x2="339.20" y2="186.20" stroke="#333" stroke-width="0.65"/>
<line x1="349.60" y1="147.50" x2="349.60" y2="154.30" stroke="#333" stroke-width="0.65"/>
<line x1="348.30" y1="147.50" x2="350.90" y2="147.50" stroke="#333" stroke-width="0.65"/>
<line x1="348.30" y1="154.30" x2="350.90" y2="154.30" stroke="#333" stroke-width="0.65"/>
<line x1="360.00" y1="166.90" x2="360.00" y2="170.90" stroke="#333" stroke-width="0.65"/>
<line x1="358.70" y1="166.90" x2="361.30" y2="166.90" stroke="#333" stroke-width="0.65"/>
<line x1="358.70" y1="170.90" x2="361.30" y2="170.90" stroke="#333" stroke-width="0.65"/>
<line x1="371.50" y1="171.40" x2="371.50" y2="174.60" stroke="#333" stroke-width="0.65"/>
<line x1="370.20" y1="171.40" x2="372.80" y2="171.40" stroke="#333" stroke-width="0.65"/>
<line x1="370.20" y1="174.60" x2="372.80" y2="174.60" stroke="#333" stroke-width="0.65"/>
<line x1="382.10" y1="172.80" x2="382.10" y2="176.00" stroke="#333" stroke-width="0.65"/>
<line x1="380.80" y1="172.80" x2="383.40" y2="172.80" stroke="#333" stroke-width="0.65"/>
<line x1="380.80" y1="176.00" x2="383.40" y2="176.00" stroke="#333" stroke-width="0.65"/>
<line x1="393.80" y1="158.75" x2="393.80" y2="165.00" stroke="#333" stroke-width="0.65"/>
<line x1="392.50" y1="158.75" x2="395.10" y2="158.75" stroke="#333" stroke-width="0.65"/>
<line x1="392.50" y1="165.00" x2="395.10" y2="165.00" stroke="#333" stroke-width="0.65"/>
<line x1="349.60" y1="163.75" x2="349.60" y2="170.30" stroke="#333" stroke-width="0.65"/>
<line x1="348.30" y1="163.75" x2="350.90" y2="163.75" stroke="#333" stroke-width="0.65"/>
<line x1="348.30" y1="170.30" x2="350.90" y2="170.30" stroke="#333" stroke-width="0.65"/>
<line x1="360.00" y1="171.30" x2="360.00" y2="174.90" stroke="#333" stroke-width="0.65"/>
<line x1="358.70" y1="171.30" x2="361.30" y2="171.30" stroke="#333" stroke-width="0.65"/>
<line x1="358.70" y1="174.90" x2="361.30" y2="174.90" stroke="#333" stroke-width="0.65"/>
<line x1="371.50" y1="174.60" x2="371.50" y2="177.90" stroke="#333" stroke-width="0.65"/>
<line x1="370.20" y1="174.60" x2="372.80" y2="174.60" stroke="#333" stroke-width="0.65"/>
<line x1="370.20" y1="177.90" x2="372.80" y2="177.90" stroke="#333" stroke-width="0.65"/>
<line x1="382.10" y1="175.60" x2="382.10" y2="178.80" stroke="#333" stroke-width="0.65"/>
<line x1="380.80" y1="175.60" x2="383.40" y2="175.60" stroke="#333" stroke-width="0.65"/>
<line x1="380.80" y1="178.80" x2="383.40" y2="178.80" stroke="#333" stroke-width="0.65"/>
<line x1="393.80" y1="165.50" x2="393.80" y2="171.10" stroke="#333" stroke-width="0.65"/>
<line x1="392.50" y1="165.50" x2="395.10" y2="165.50" stroke="#333" stroke-width="0.65"/>
<line x1="392.50" y1="171.10" x2="395.10" y2="171.10" stroke="#333" stroke-width="0.65"/>
<circle cx="305.20" cy="214.80" r="1.8" fill="#111"/>
<circle cx="315.80" cy="214.10" r="1.8" fill="#111"/>
<circle cx="327.40" cy="211.00" r="1.8" fill="#111"/>
<circle cx="337.90" cy="184.40" r="1.8" fill="#111"/>
<circle cx="349.60" cy="150.90" r="1.8" fill="#111"/>
<circle cx="360.00" cy="168.90" r="1.8" fill="#111"/>
<circle cx="371.50" cy="173.00" r="1.8" fill="#111"/>
<circle cx="382.10" cy="174.40" r="1.8" fill="#111"/>
<circle cx="393.80" cy="161.80" r="1.8" fill="#111"/>
<circle cx="305.20" cy="216.00" r="1.5" fill="#fff" stroke="#1a1a1a" stroke-width="0.9"/>
<circle cx="315.80" cy="213.20" r="1.5" fill="#fff" stroke="#1a1a1a" stroke-width="0.9"/>
<circle cx="327.40" cy="206.20" r="1.5" fill="#fff" stroke="#1a1a1a" stroke-width="0.9"/>
<circle cx="338.00" cy="192.50" r="1.5" fill="#fff" stroke="#1a1a1a" stroke-width="0.9"/>
<circle cx="349.60" cy="167.00" r="1.5" fill="#fff" stroke="#1a1a1a" stroke-width="0.9"/>
<circle cx="360.00" cy="173.10" r="1.5" fill="#fff" stroke="#1a1a1a" stroke-width="0.9"/>
<circle cx="371.50" cy="176.25" r="1.5" fill="#fff" stroke="#1a1a1a" stroke-width="0.9"/>
<circle cx="382.10" cy="177.20" r="1.5" fill="#fff" stroke="#1a1a1a" stroke-width="0.9"/>
<circle cx="393.80" cy="168.30" r="1.5" fill="#fff" stroke="#1a1a1a" stroke-width="0.9"/>
<text x="57.10" y="13.00" font-size="16.5" text-anchor="start" font-family="Liberation Sans, sans-serif" font-weight="bold" stroke="#000" stroke-width="0.4" >A</text>
<text x="170.40" y="13.00" font-size="16.5" text-anchor="start" font-family="Liberation Sans, sans-serif" font-weight="bold" stroke="#000" stroke-width="0.4" >B</text>
<text x="289.50" y="13.00" font-size="16.5" text-anchor="start" font-family="Liberation Sans, sans-serif" font-weight="bold" stroke="#000" stroke-width="0.4" >C</text>
<text x="399.30" y="13.00" font-size="16.5" text-anchor="start" font-family="Liberation Sans, sans-serif" font-weight="bold" stroke="#000" stroke-width="0.4" >D</text>
<text x="26.85" y="71.80" font-size="11.3" text-anchor="middle" font-family="Liberation Sans, sans-serif" font-weight="bold" stroke="#000" stroke-width="0.4" >Wild</text>
<text x="25.10" y="177.40" font-size="11.3" text-anchor="middle" font-family="Liberation Sans, sans-serif" font-weight="bold" stroke="#000" stroke-width="0.4" >IFN-&#947;</text>
<text x="24.50" y="191.20" font-size="11.3" text-anchor="middle" font-family="Liberation Sans, sans-serif" font-weight="bold" stroke="#000" stroke-width="0.4" >deficient</text>
</g>
</svg>
</body></html>
